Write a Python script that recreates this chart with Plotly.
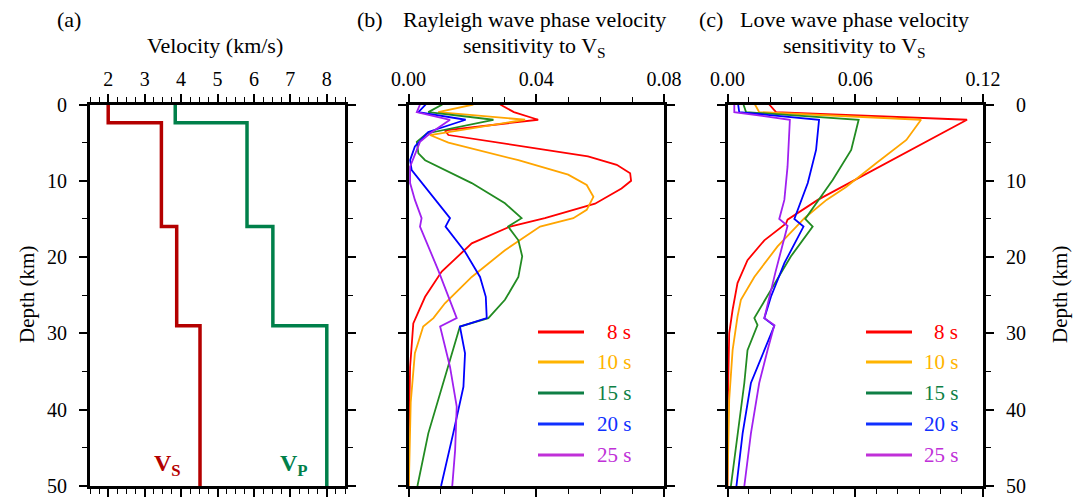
import plotly.graph_objects as go

W, H = 1079, 497


def px(x):
    return x / W


def py(y):
    return 1 - y / H


FONT = "Liberation Serif, Times New Roman, serif"

# ---------------- data: panel (a) velocity model ----------------
layer_top_km = [0, 2.4, 16, 29]
model_bottom_km = 50
vs_kms = [2.0, 3.46, 3.88, 4.52]
vp_kms = [3.84, 5.81, 6.52, 8.0]

# ---------------- data: panel (b) Rayleigh sensitivity ----------------
periods = ["8 s", "10 s", "15 s", "20 s", "25 s"]
curve_colors = ["#ff0000", "#ffa500", "#228b22", "#0000ff", "#a020f0"]
legend_colors = ["#ff0000", "#ffb400", "#0e7f45", "#1030ff", "#c030d8"]

ray_8_depth = [0, 1.0, 2.0, 3.4, 4.0, 6.8, 7.9, 9.0, 10.0, 11.0, 13.0, 14.9, 16.0, 18.2, 21.9, 25.2, 28.7, 34.4, 43.0, 50.0]
ray_8_val = [0.0287, 0.0330, 0.0406, 0.0114, 0.0125, 0.0562, 0.0652, 0.0694, 0.0697, 0.0667, 0.0584, 0.0427, 0.0318, 0.0198, 0.0104, 0.0052, 0.0015, 0.0005, 0.0001, 0.0]

ray_10_depth = [0, 1.0, 2.0, 4.0, 5.0, 7.3, 9.2, 10.55, 12.1, 13.8, 14.9, 16.0, 19.1, 22.6, 26.05, 28.0, 29.1, 32.6, 39.0, 50.0]
ray_10_val = [0.0203, 0.0093, 0.0365, 0.0067, 0.0125, 0.0344, 0.0500, 0.0558, 0.0579, 0.0558, 0.0516, 0.0412, 0.0302, 0.0198, 0.0114, 0.0078, 0.0046, 0.0020, 0.0007, 0.0001]

ray_15_depth = [0, 1.0, 2.0, 3.8, 4.9, 6.4, 7.3, 10.3, 12.95, 14.9, 16.0, 17.8, 19.9, 22.6, 25.6, 28.0, 29.1, 36.5, 43.1, 50.0]
ray_15_val = [0.0106, 0.0062, 0.0266, 0.0057, 0.0026, 0.0031, 0.0052, 0.0198, 0.0302, 0.0354, 0.0312, 0.0344, 0.0356, 0.0344, 0.0302, 0.0250, 0.0161, 0.0109, 0.0062, 0.0028]

ray_20_depth = [0, 1.0, 2.0, 3.6, 5.5, 7.3, 8.6, 10.8, 14.9, 16.0, 19.3, 22.6, 25.2, 28.0, 29.1, 32.6, 37.0, 43.1, 50.0]
ray_20_val = [0.0054, 0.0031, 0.0179, 0.0062, 0.0020, 0.0005, 0.0010, 0.0052, 0.0130, 0.0116, 0.0177, 0.0224, 0.0242, 0.0245, 0.0161, 0.0177, 0.0172, 0.0140, 0.0102]

ray_25_depth = [0, 1.0, 2.0, 3.8, 4.9, 7.05, 8.15, 10.3, 12.5, 14.9, 16.0, 21.7, 28.0, 29.1, 34.4, 39.6, 45.3, 50.0]
ray_25_val = [0.0036, 0.0026, 0.0130, 0.0067, 0.0036, 0.0015, 0.0005, 0.0005, 0.0020, 0.0041, 0.0036, 0.0093, 0.0151, 0.0099, 0.0130, 0.0151, 0.0146, 0.0137]

# ---------------- data: panel (c) Love sensitivity ----------------
love_8_depth = [0, 1.0, 2.0, 12.5, 15.1, 15.6, 17.8, 20.4, 23.4, 26.9, 30.0, 40.0, 50.0]
love_8_val = [0.0196, 0.0228, 0.1125, 0.0424, 0.0282, 0.0275, 0.0173, 0.0094, 0.0047, 0.0024, 0.0008, 0.0001, 0.0]

love_10_depth = [0, 1.0, 2.0, 4.65, 7.7, 10.8, 12.5, 14.9, 15.6, 18.6, 22.6, 25.6, 27.8, 29.1, 32.2, 38.7, 50.0]
love_10_val = [0.0129, 0.0149, 0.0909, 0.0840, 0.0698, 0.0557, 0.0465, 0.0361, 0.0337, 0.0235, 0.0126, 0.0063, 0.0047, 0.0040, 0.0024, 0.0008, 0.0]

love_15_depth = [0, 1.0, 2.0, 5.96, 9.9, 12.95, 15.0, 16.0, 19.9, 24.3, 28.0, 28.9, 32.2, 36.5, 43.1, 50.0]
love_15_val = [0.0075, 0.0087, 0.0616, 0.0581, 0.0494, 0.0416, 0.0365, 0.0400, 0.0298, 0.0204, 0.0126, 0.0141, 0.0094, 0.0079, 0.0047, 0.0016]

love_20_depth = [0, 1.0, 2.0, 5.96, 10.3, 13.4, 15.0, 16.0, 20.8, 25.2, 28.0, 29.0, 32.2, 36.5, 43.1, 50.0]
love_20_val = [0.0050, 0.0055, 0.0430, 0.0416, 0.0377, 0.0337, 0.0314, 0.0357, 0.0267, 0.0204, 0.0173, 0.0220, 0.0173, 0.0110, 0.0071, 0.0042]

love_25_depth = [0, 1.0, 2.0, 8.15, 12.5, 15.0, 15.9, 22.0, 28.0, 28.9, 32.2, 36.5, 43.1, 50.0]
love_25_val = [0.0032, 0.0032, 0.0293, 0.0282, 0.0267, 0.0243, 0.0282, 0.0225, 0.0173, 0.0220, 0.0188, 0.0149, 0.0110, 0.0079]

depth_tick_vals = [0, 10, 20, 30, 40, 50]
depth_tick_labels = ["0", "10", "20", "30", "40", "50"]
vel_tick_vals = [2, 3, 4, 5, 6, 7, 8]
ray_tick_vals = [0.00, 0.04, 0.08]
ray_tick_labels = ["0.00", "0.04", "0.08"]
love_tick_vals = [0.00, 0.06, 0.12]
love_tick_labels = ["0.00", "0.06", "0.12"]

rayleigh = [(ray_8_depth, ray_8_val), (ray_10_depth, ray_10_val), (ray_15_depth, ray_15_val),
            (ray_20_depth, ray_20_val), (ray_25_depth, ray_25_val)]
love = [(love_8_depth, love_8_val), (love_10_depth, love_10_val), (love_15_depth, love_15_val),
        (love_20_depth, love_20_val), (love_25_depth, love_25_val)]

fig = go.Figure()

model_depth = layer_top_km + [model_bottom_km]
fig.add_trace(go.Scatter(x=vs_kms + [vs_kms[-1]], y=model_depth, mode="lines", line_shape="vh",
                         line=dict(color="#b40000", width=3.5), xaxis="x", yaxis="y", showlegend=False))
fig.add_trace(go.Scatter(x=vp_kms + [vp_kms[-1]], y=model_depth, mode="lines", line_shape="vh",
                         line=dict(color="#00804a", width=3.5), xaxis="x", yaxis="y", showlegend=False))

for (d, v), c in zip(rayleigh, curve_colors):
    fig.add_trace(go.Scatter(x=v, y=d, mode="lines", line=dict(color=c, width=1.8),
                             xaxis="x2", yaxis="y2", showlegend=False))
for (d, v), c in zip(love, curve_colors):
    fig.add_trace(go.Scatter(x=v, y=d, mode="lines", line=dict(color=c, width=1.8),
                             xaxis="x3", yaxis="y3", showlegend=False))

ydom = [py(486), py(104.5)]
axis_common = dict(showline=True, linewidth=3, linecolor="black", mirror="ticks", ticks="outside",
                   ticklen=8, tickwidth=1.5, tickcolor="black", showgrid=False, zeroline=False,
                   tickfont=dict(family=FONT, size=20, color="black"), automargin=False)

xa = dict(axis_common, domain=[px(90), px(345)], range=[1.5, 8.5], side="top", tickvals=vel_tick_vals,
          minor=dict(dtick=0.25, tick0=0, ticks="outside", ticklen=5, tickwidth=1.2, tickcolor="black"),
          anchor="y")
xb = dict(axis_common, domain=[px(408.5), px(664)], range=[0, 0.08], side="top", tickvals=ray_tick_vals,
          ticktext=ray_tick_labels,
          minor=dict(dtick=0.01, tick0=0, ticks="outside", ticklen=5, tickwidth=1.2, tickcolor="black"),
          anchor="y2")
xc = dict(axis_common, domain=[px(727.5), px(983)], range=[0, 0.12], side="top", tickvals=love_tick_vals,
          ticktext=love_tick_labels,
          minor=dict(dtick=0.01, tick0=0, ticks="outside", ticklen=5, tickwidth=1.2, tickcolor="black"),
          anchor="y3")

yminor = dict(dtick=5, tick0=0, ticks="outside", ticklen=5, tickwidth=1.2, tickcolor="black")
ya = dict(axis_common, domain=ydom, range=[50, 0], tickvals=depth_tick_vals, ticktext=depth_tick_labels,
          minor=yminor, anchor="x", side="left", ticklabelstandoff=8)
yb = dict(axis_common, domain=ydom, range=[50, 0], tickvals=depth_tick_vals, showticklabels=False,
          minor=yminor, anchor="x2")
right_labels = [lbl.rjust(2, "\u2007") for lbl in depth_tick_labels]
yc = dict(axis_common, domain=ydom, range=[50, 0], tickvals=depth_tick_vals, ticktext=right_labels,
          minor=yminor, anchor="x3", side="right", ticklabelstandoff=8)

annotations = []


def note(text, x, y, size=22, color="black", angle=0, xanchor="center"):
    annotations.append(dict(text=text, x=px(x), y=py(y), xref="paper", yref="paper", showarrow=False,
                            xanchor=xanchor, yanchor="middle", textangle=angle,
                            font=dict(family=FONT, size=size, color=color)))


note("(a)", 69, 19)
note("Velocity (km/s)", 215, 46)
note("(b)", 370, 19)
note("Rayleigh wave phase velocity", 534, 19)
note("sensitivity to V<sub>S</sub>", 534, 47)
note("(c)", 711, 19)
note("Love wave phase velocity", 854, 19)
note("sensitivity to V<sub>S</sub>", 854, 47)
note("Depth (km)", 27, 295, size=21, angle=-90)
note("Depth (km)", 1060, 295, size=21, angle=-90)
note("<b>V<sub>S</sub></b>", 167, 465, size=24, color="#b40000")
note("<b>V<sub>P</sub></b>", 294, 465, size=24, color="#00804a")

legend_rows = [332, 362, 393, 424, 455]
shapes = []
for (x0, x1, xt) in [(538, 584, 633), (866, 912, 960)]:
    for row, lbl, c in zip(legend_rows, periods, legend_colors):
        shapes.append(dict(type="line", xref="paper", yref="paper", x0=px(x0), x1=px(x1),
                           y0=py(row), y1=py(row), line=dict(color=c, width=3)))
        note(lbl, xt, row, size=21, color=c, xanchor="right")

fig.update_layout(width=W, height=H, margin=dict(l=0, r=0, t=0, b=0), paper_bgcolor="white",
                  plot_bgcolor="white", showlegend=False, xaxis=xa, xaxis2=xb, xaxis3=xc,
                  yaxis=ya, yaxis2=yb, yaxis3=yc, annotations=annotations, shapes=shapes,
                  font=dict(family=FONT, size=20, color="black"))

fig.write_html("out.html")
